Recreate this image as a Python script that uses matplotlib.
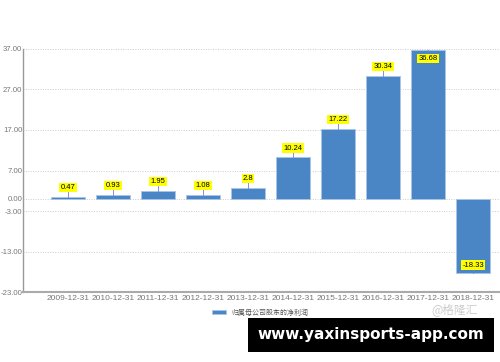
import matplotlib.pyplot as plt

plt.rcParams['font.family'] = ['Liberation Sans', 'Noto Sans CJK SC', 'DejaVu Sans']

# data
dates = ['2009-12-31', '2010-12-31', '2011-12-31', '2012-12-31', '2013-12-31',
         '2014-12-31', '2015-12-31', '2016-12-31', '2017-12-31', '2018-12-31']
profit = [0.47, 0.93, 1.95, 1.08, 2.8, 10.24, 17.22, 30.34, 36.68, -18.33]
labels = ['0.47', '0.93', '1.95', '1.08', '2.8', '10.24', '17.22', '30.34', '36.68', '-18.33']
yticks = [37, 27, 17, 7, 0, -3, -13, -23]
series_name = '归属母公司股东的净利润'

fig = plt.figure(figsize=(5, 3.62), dpi=100)
ax = fig.add_axes([0.046, 0.193, 0.954, 0.672])

x = list(range(len(dates)))
ax.bar(x, profit, width=0.75, color='#4a86c5', edgecolor='#a9c6e6', linewidth=0.6,
       label=series_name, zorder=3)

ax.set_ylim(-23, 37)
ax.set_xlim(-1, 9.6)
ax.set_yticks(yticks)
ax.set_yticklabels(['%.2f' % v for v in yticks])
ax.set_xticks(x)
ax.set_xticklabels(dates)
ax.tick_params(axis='x', labelsize=6, colors='#777777', length=0, pad=2)
ax.tick_params(axis='y', labelsize=5.6, colors='#777777', length=0, pad=0.5)

for v in yticks:
    ax.axhline(v, color='#cccccc', linestyle=(0, (1, 1.5)), linewidth=0.7, zorder=1)

for s in ['top', 'right']:
    ax.spines[s].set_visible(False)
ax.spines['left'].set_color('#999999')
ax.spines['left'].set_linewidth(1.0)
ax.spines['bottom'].set_color('#aaaaaa')
ax.spines['bottom'].set_linewidth(1.5)

box = dict(boxstyle='square,pad=0.15', facecolor='#ffff00', edgecolor='none')
for xi, v, lab in zip(x, profit, labels):
    if v < 0:
        ax.plot([xi, xi], [v, v + 1.2], color='#6a7ee8', linewidth=0.6, zorder=4)
        ax.text(xi, v + 2.0, lab, ha='center', va='center', fontsize=5.5, bbox=box, zorder=5)
    elif v > 35:
        ax.plot([xi, xi], [v, v - 1.0], color='#6a7ee8', linewidth=0.6, zorder=4)
        ax.text(xi, v - 2.0, lab, ha='center', va='center', fontsize=5.5, bbox=box, zorder=5)
    else:
        ax.plot([xi, xi], [v, v + 1.5], color='#6a7ee8', linewidth=0.6, zorder=4)
        ax.text(xi, v + 2.3, lab, ha='center', va='center', fontsize=5.5, bbox=box, zorder=5)

leg = fig.legend(loc='center', bbox_to_anchor=(0.52, 0.135), frameon=False, fontsize=5,
                 handlelength=2.0, handleheight=0.5, labelcolor='#555555')

fig.text(0.955, 0.145, '@格隆汇', ha='right', va='center', fontsize=8.5, color='#cccccc',
         family=['Noto Sans CJK SC', 'DejaVu Sans'])

fig.text(0.742, 0.075, 'www.yaxinsports-app.com', ha='center', va='center', fontsize=11,
         color='white', fontweight='bold', family='DejaVu Sans',
         bbox=dict(boxstyle='square,pad=0.6', facecolor='black', edgecolor='none'))

fig.savefig('out.png', dpi=100)
